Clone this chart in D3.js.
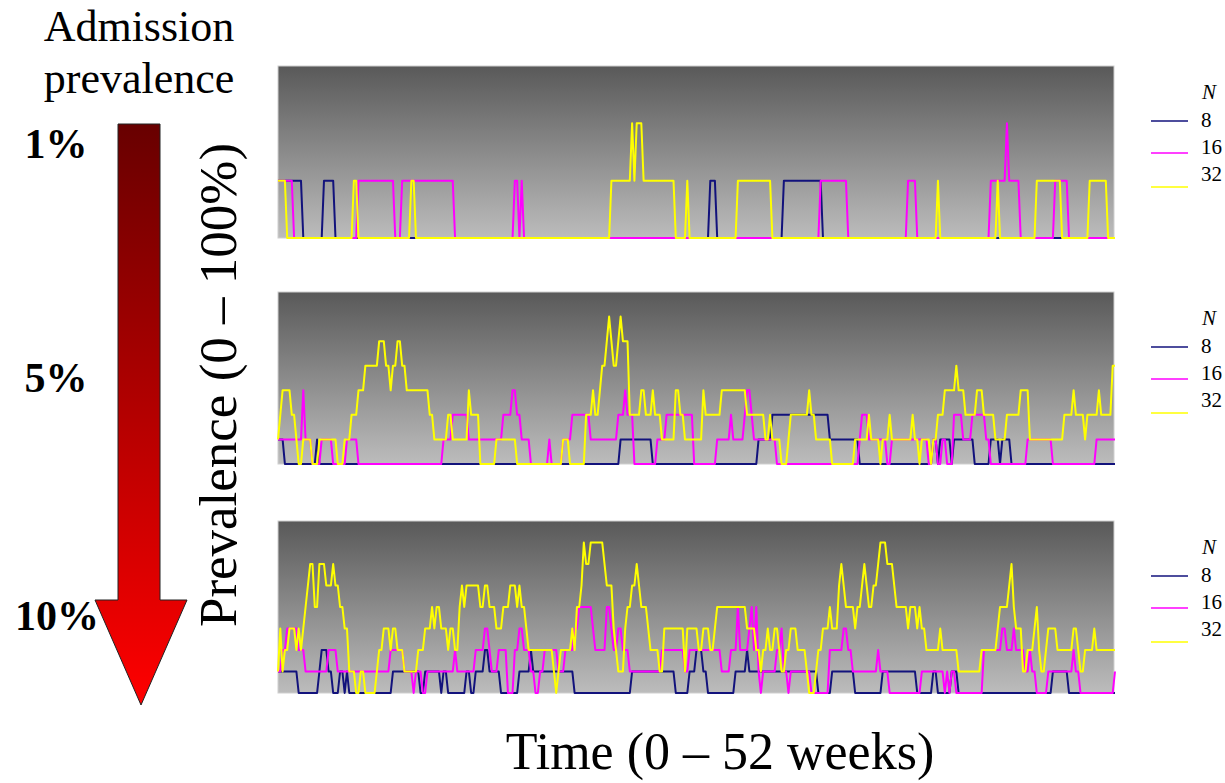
<!DOCTYPE html>
<html lang="en">
<head>
<meta charset="UTF-8">
<title>Prevalence over time</title>
<script src="https://d3js.org/d3.v7.min.js"></script>
<style>
  body { margin: 0; background: #fff; }
  text { font-family: "Liberation Serif", "Times New Roman", serif; }
</style>
</head>
<body>
<div id="chart"></div>
<script>
// admission prevalence rows and ward sizes
const rowLabels = ["1%", "5%", "10%"];
const sizes = ["8", "16", "32"];
const rowMax = [3, 7, 8];          // count range of each panel
const lastDay = 364;               // 52 weeks

// each series: [day the value starts, number colonised]
const p1n8  = [[0,1],[11,0],[20,1],[25,0],[188,1],[191,0],[220,1],[237,0]];
const p1n16 = [[0,1],[7,0],[35,1],[51,0],[54,1],[77,0],[103,1],[105,0],[106,1],[107,0],[236,1],[248,0],[274,1],[278,0],[310,1],[317,2],[318,1],[323,0],[338,1],[344,0]];
const p1n32 = [[0,1],[4,0],[33,1],[35,0],[58,1],[60,0],[145,1],[154,2],[155,1],[156,2],[159,1],[173,0],[178,1],[179,0],[200,1],[215,0],[287,1],[288,0],[313,1],[314,0],[330,1],[341,0],[353,1],[361,0]];

const p2n8  = [[0,1],[3,0],[17,1],[18,0],[149,1],[163,0],[209,1],[215,2],[240,1],[253,0],[285,1],[287,0],[288,1],[293,0],[294,1],[303,0],[310,1],[314,0],[315,1],[319,0]];
const p2n16 = [[0,1],[11,3],[12,1],[15,0],[19,1],[24,0],[30,1],[35,0],[72,1],[76,2],[83,1],[98,2],[102,3],[104,2],[106,1],[110,0],[118,1],[119,0],[124,1],[128,2],[136,1],[148,2],[151,3],[152,2],[155,0],[165,1],[169,2],[181,0],[191,1],[197,2],[198,1],[203,2],[204,3],[206,2],[207,1],[217,0],[253,1],[254,2],[257,1],[265,0],[267,1],[283,0],[285,1],[287,0],[289,1],[291,0],[294,2],[298,1],[302,2],[308,1],[310,0],[326,1],[337,0],[356,1]];
const p2n32 = [[0,1],[1,2],[2,3],[6,2],[8,1],[9,0],[11,1],[15,0],[18,1],[26,0],[29,1],[32,2],[35,3],[38,4],[44,5],[47,4],[49,3],[50,4],[52,5],[54,4],[56,3],[66,2],[68,1],[74,2],[76,1],[83,3],[84,2],[88,0],[95,1],[104,0],[124,1],[127,0],[134,2],[137,3],[138,2],[140,3],[141,4],[143,5],[144,6],[145,5],[146,4],[148,5],[149,6],[150,5],[153,2],[158,3],[160,2],[163,3],[164,2],[167,1],[173,3],[175,2],[177,1],[185,3],[186,2],[193,3],[204,2],[212,1],[214,2],[215,1],[219,0],[222,1],[223,2],[231,3],[232,2],[234,1],[241,0],[251,1],[257,2],[258,1],[262,0],[263,1],[266,2],[267,1],[276,2],[277,1],[279,0],[280,1],[284,0],[285,1],[287,2],[290,3],[295,4],[296,3],[299,2],[304,3],[307,2],[312,1],[317,2],[323,3],[327,1],[342,2],[346,3],[347,2],[351,1],[352,2],[357,3],[358,2],[363,4]];

const p3n8  = [[0,1],[9,0],[18,1],[19,2],[22,1],[24,0],[27,1],[29,0],[30,1],[31,0],[50,1],[62,0],[64,1],[71,0],[72,1],[74,0],[82,1],[84,0],[86,1],[90,2],[92,1],[97,0],[105,1],[110,2],[111,1],[129,0],[154,1],[173,0],[179,1],[182,2],[185,1],[187,0],[199,1],[204,2],[205,1],[235,0],[241,1],[251,0],[263,1],[278,0],[285,1],[287,0],[293,1],[296,0],[337,1],[344,0]];
const p3n16 = [[0,1],[2,2],[4,3],[9,2],[12,1],[22,2],[26,1],[49,2],[55,1],[59,0],[60,1],[63,0],[65,1],[77,2],[78,1],[86,2],[90,3],[92,2],[93,1],[96,2],[100,0],[103,2],[105,3],[107,2],[110,1],[112,0],[114,1],[116,2],[122,1],[125,2],[129,3],[131,4],[137,3],[138,2],[143,4],[145,3],[146,2],[148,3],[150,2],[153,1],[167,2],[177,1],[179,2],[193,1],[197,2],[200,4],[201,2],[205,3],[206,4],[207,2],[208,4],[209,1],[210,0],[211,1],[217,2],[219,3],[220,1],[222,0],[223,1],[232,0],[240,2],[246,3],[248,2],[250,1],[261,2],[262,1],[266,0],[280,1],[290,0],[291,1],[292,0],[293,1],[295,0],[307,2],[315,3],[317,2],[320,3],[321,2],[325,1],[327,2],[328,1],[330,0],[335,1],[346,2],[347,1],[349,0],[364,1]];
const p3n32 = [[0,1],[1,3],[2,1],[3,2],[5,3],[8,2],[9,3],[10,2],[11,3],[12,4],[13,5],[14,6],[16,4],[18,6],[21,5],[24,6],[25,5],[27,4],[29,3],[31,1],[34,0],[36,1],[38,0],[43,1],[44,2],[46,3],[49,2],[50,3],[52,2],[55,1],[61,2],[64,3],[67,4],[68,3],[69,4],[71,3],[74,2],[75,3],[77,2],[79,4],[80,5],[81,4],[82,5],[88,4],[90,5],[92,4],[95,3],[98,4],[101,5],[104,4],[105,5],[106,4],[108,3],[109,2],[120,1],[121,0],[122,1],[123,2],[128,3],[129,2],[130,4],[132,5],[133,7],[134,6],[136,7],[142,6],[143,5],[146,3],[147,2],[148,1],[151,3],[152,4],[154,5],[156,6],[157,5],[158,4],[161,3],[162,2],[166,1],[168,3],[177,1],[178,3],[183,2],[185,3],[188,2],[190,3],[191,4],[204,3],[208,2],[210,1],[211,2],[213,3],[214,2],[216,3],[218,2],[219,1],[221,2],[223,3],[226,2],[230,1],[231,0],[234,1],[235,2],[237,3],[240,4],[241,3],[244,5],[245,6],[246,5],[247,4],[251,3],[252,4],[254,5],[255,6],[256,5],[257,4],[259,5],[261,6],[262,7],[265,6],[268,5],[269,4],[274,3],[275,4],[278,3],[279,4],[280,3],[282,2],[288,3],[289,2],[296,1],[306,2],[313,3],[314,4],[318,5],[319,6],[320,4],[321,3],[324,1],[326,2],[329,3],[330,4],[331,2],[332,1],[334,2],[335,3],[339,2],[346,3],[348,2],[349,1],[351,2],[355,3],[356,2]];

const panels = [[p1n8, p1n16, p1n32], [p2n8, p2n16, p2n32], [p3n8, p3n16, p3n32]];
const colours = ["#12127c", "#ff00ff", "#ffff00"];

const W = 1225, H = 783;
const left = 278, right = 1115, panelH = 172;
const tops = [66, 292, 521];

const svg = d3.select("#chart").append("svg")
    .attr("width", W).attr("height", H);

const defs = svg.append("defs");
const bg = defs.append("linearGradient").attr("id", "bg")
    .attr("x1", 0).attr("y1", 0).attr("x2", 0).attr("y2", 1);
bg.append("stop").attr("offset", 0).attr("stop-color", "#595959");
bg.append("stop").attr("offset", 1).attr("stop-color", "#bcbcbc");

const red = defs.append("linearGradient").attr("id", "red")
    .attr("x1", 0).attr("y1", 0).attr("x2", 0).attr("y2", 1);
red.append("stop").attr("offset", 0).attr("stop-color", "#680000");
red.append("stop").attr("offset", 1).attr("stop-color", "#ff0000");

const x = d3.scaleLinear().domain([0, lastDay]).range([left, right]);

// turn change points into a daily step line
function stepPoints(runs) {
    const pts = [];
    runs.forEach((r, i) => {
        const end = i + 1 < runs.length ? runs[i + 1][0] - 1 : lastDay;
        pts.push([r[0], r[1]]);
        if (end > r[0]) pts.push([end, r[1]]);
    });
    return pts;
}

panels.forEach((series, p) => {
    const top = tops[p];
    const y = d3.scaleLinear().domain([0, rowMax[p]]).range([top + panelH, top]);
    const g = svg.append("g");

    g.append("rect")
        .attr("x", left).attr("y", top)
        .attr("width", right - left - 1).attr("height", panelH)
        .attr("fill", "url(#bg)")
        .attr("stroke", "#cfcfcf").attr("stroke-width", 1);

    const line = d3.line().x(d => x(d[0])).y(d => y(d[1]));
    series.forEach((runs, k) => {
        g.append("path")
            .attr("d", line(stepPoints(runs)))
            .attr("fill", "none")
            .attr("stroke", colours[k])
            .attr("stroke-width", 2)
            .attr("stroke-linejoin", "round");
    });

    // legend
    const lg = svg.append("g").attr("transform", `translate(0,${top})`);
    lg.append("text").attr("x", 1202).attr("y", 33)
        .attr("font-size", 21).attr("font-style", "italic").text("N");
    const lineY = [55, 87, 121], textY = [61, 88, 115];
    sizes.forEach((s, k) => {
        lg.append("line")
            .attr("x1", 1151).attr("x2", 1188)
            .attr("y1", lineY[k]).attr("y2", lineY[k])
            .attr("stroke", colours[k]).attr("stroke-width", 1.6);
        lg.append("text").attr("x", 1201).attr("y", textY[k])
            .attr("font-size", 21).text(s);
    });
});

// left side: admission prevalence arrow
svg.append("text").attr("x", 139).attr("y", 41).attr("text-anchor", "middle")
    .attr("font-size", 44).text("Admission");
svg.append("text").attr("x", 139).attr("y", 93).attr("text-anchor", "middle")
    .attr("font-size", 44).text("prevalence");

const labelY = [158, 392, 630];
const labelX = [56, 56, 57];
rowLabels.forEach((t, i) => {
    svg.append("text").attr("x", labelX[i]).attr("y", labelY[i])
        .attr("text-anchor", "middle")
        .attr("font-size", 42).attr("font-weight", "bold").text(t);
});

svg.append("path")
    .attr("d", "M118,124 L160,124 L160,600 L187,600 L141,705 L95,600 L118,600 Z")
    .attr("fill", "url(#red)")
    .attr("stroke", "#222").attr("stroke-width", 1);

// axis titles
svg.append("text")
    .attr("transform", "translate(236,385) rotate(-90)")
    .attr("text-anchor", "middle").attr("font-size", 53)
    .text("Prevalence (0 \u2013 100%)");

svg.append("text").attr("x", 720).attr("y", 769)
    .attr("text-anchor", "middle").attr("font-size", 52)
    .text("Time (0 \u2013 52 weeks)");
</script>
</body>
</html>
